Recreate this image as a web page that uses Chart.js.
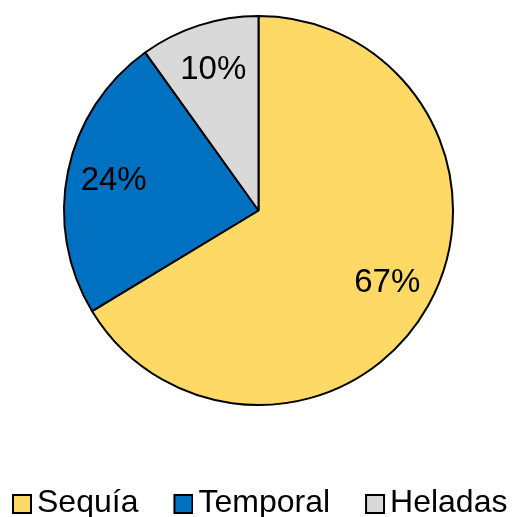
<!DOCTYPE html>
<html>
<head>
<meta charset="utf-8">
<script src="https://cdn.jsdelivr.net/npm/chart.js@4.4.1/dist/chart.umd.min.js"></script>
<style>
  html, body { margin: 0; padding: 0; background: #fff; overflow: hidden; }
  #wrap { width: 517px; height: 517px; position: relative; }
</style>
</head>
<body>
<div id="wrap"><canvas id="chart"></canvas></div>
<script>
// Causes of crop losses (share of total)
const CATEGORIES = ["Sequía", "Temporal", "Heladas"];
const VALUES     = [67, 24, 10];
const COLORS     = ["#FFD966", "#0070C0", "#D9D9D9"];

const FONT = "'Liberation Sans', Arial, sans-serif";

// legend swatch: square with black outline, sitting at the right edge of the
// image so it ends up just left of the label text
function swatch(color) {
  const c = document.createElement("canvas");
  c.width = 55; c.height = 24;
  const g = c.getContext("2d");
  g.fillStyle = color;
  g.fillRect(36, 4, 18, 18);
  g.strokeStyle = "#000";
  g.lineWidth = 2;
  g.strokeRect(36, 4, 18, 18);
  return c;
}

// draws "67%" etc. inside each slice, along the mid angle
const sliceLabels = {
  id: "sliceLabels",
  afterDatasetsDraw(chart) {
    const ctx = chart.ctx;
    const meta = chart.getDatasetMeta(0);
    ctx.save();
    ctx.font = "33px " + FONT;
    ctx.fillStyle = "#000";
    ctx.textAlign = "center";
    ctx.textBaseline = "middle";
    meta.data.forEach((arc, i) => {
      const { x, y, startAngle, endAngle, outerRadius } = arc.getProps(["x", "y", "startAngle", "endAngle", "outerRadius"], true);
      const mid = (startAngle + endAngle) / 2;
      const r = outerRadius * 0.76;
      ctx.fillText(VALUES[i] + "%", x + Math.cos(mid) * r, y + Math.sin(mid) * r);
    });
    ctx.restore();
  }
};

new Chart(document.getElementById("chart"), {
  type: "pie",
  data: {
    labels: CATEGORIES,
    datasets: [{
      data: VALUES,
      backgroundColor: COLORS,
      borderColor: "#000",
      borderWidth: 2,
    }],
  },
  options: {
    responsive: true,
    maintainAspectRatio: false,
    animation: false,
    layout: { padding: { top: 15, bottom: -12, left: -23, right: -23 } },
    plugins: {
      tooltip: { enabled: false },
      legend: {
        position: "bottom",
        align: "start",
        // empty title only used as a spacer between pie and legend row
        title: { display: true, text: "", font: { size: 10, lineHeight: 1 }, padding: { top: 0, bottom: 60 } },
        labels: {
          color: "#000",
          font: { family: FONT, size: 32 },
          usePointStyle: true,
          pointStyleWidth: 33,
          padding: 11,
          generateLabels(chart) {
            return CATEGORIES.map((name, i) => ({
              text: name,
              fontColor: "#000",
              pointStyle: swatch(COLORS[i]),
              hidden: false,
              index: i,
              datasetIndex: 0,
            }));
          },
        },
      },
    },
  },
  plugins: [sliceLabels],
});
</script>
</body>
</html>
